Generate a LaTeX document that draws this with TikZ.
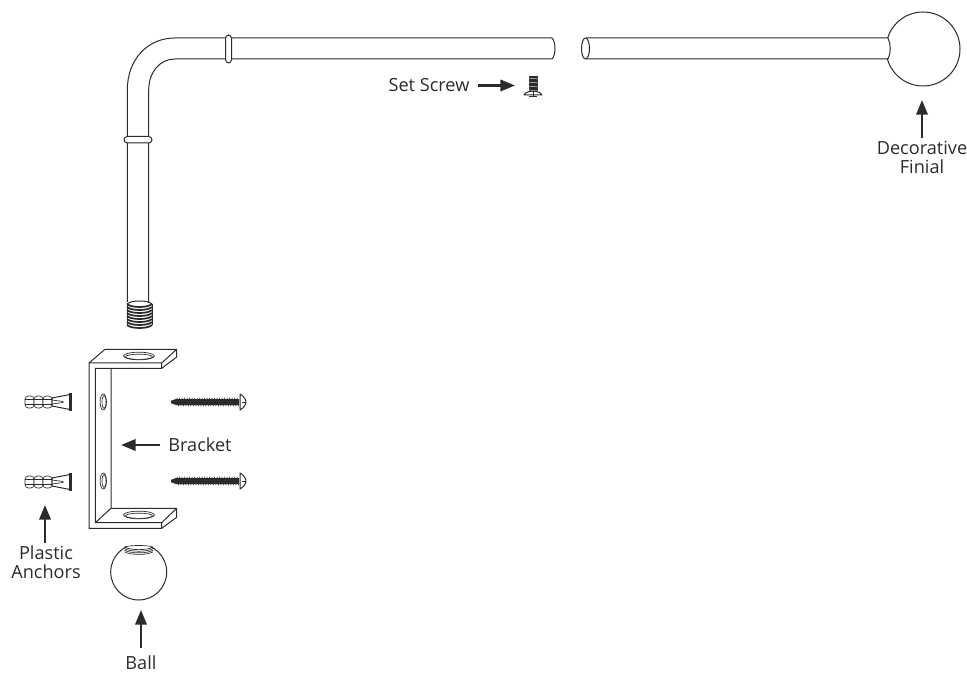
\documentclass[tikz,border=0pt]{standalone}
\usepackage{fontspec}
\setmainfont{Open Sans}
\usetikzlibrary{positioning,arrows.meta}
\definecolor{ink}{HTML}{2B2B2B}
\tikzset{
	part/.style={draw=ink,line width=0.75pt,line join=round},
	thin part/.style={draw=ink,line width=0.5pt},
	tag/.style={text=ink,font=\fontsize{13.6}{14.2}\selectfont,align=center,inner sep=0pt},
	pointer/.style={draw=ink,line width=1.9pt,-{Triangle[length=11pt,width=8.5pt]},shorten <=6pt},
	pics/wallscrew/.style={code={
		\fill[ink] (0,-1.2) -- (5,-3) -- (68,-3) -- (68,3) -- (5,3) -- (0,1.2) -- cycle;
		\foreach \i in {6,8.5,...,66}{
			\draw[ink,line width=0.5pt] (\i,-4.2) -- (\i+1.5,4.2);
		}
		\draw[part,fill=white] (69,-8) .. controls (73,-6) and (75,-2) .. (75,0) .. controls (75,2) and (73,6) .. (69,8) -- cycle;
		\draw[thin part] (75,0) -- (71,0);
	}},
	pics/wallanchor/.style={code={
		\foreach \i in {0,9,18}{
			\draw[thin part,fill=white,rounded corners=2.5pt] (\i,-6) rectangle (\i+9,6);
		}
		\draw[thin part] (0,-2.5) -- (27,-2.5) (0,2.5) -- (27,2.5);
		\draw[part,fill=white] (27,-4) -- (45,-7.5) -- (45,7.5) -- (27,4) -- cycle;
		\draw[thin part] (27,-2) -- (38,-0.5) -- (38,0.5) -- (27,2);
		\draw[draw=ink,line width=1.8pt] (45.5,-9) -- (45.5,9);
	}},
}
\begin{document}
\begin{tikzpicture}[x=0.75pt,y=-0.75pt]
	\useasboundingbox (0,0) rectangle (967,673);
	%% rod
	\draw[part] (127.3,302) -- (127.3,90) .. controls (127.3,60) and (147,38) .. (175,38) -- (552,38)
		.. controls (556,42) and (556,55) .. (552,59) -- (175,59)
		.. controls (160,59) and (148.7,72) .. (148.7,90) -- (148.7,302);
	\draw[part,fill=white,rounded corners=2.5pt] (225.5,35) rectangle (231.5,63);
	\draw[part,fill=white,rounded corners=2.5pt] (124,136.5) rectangle (152,143);
	%% thread
	\foreach \i in {0,3,...,21}{
		\draw[draw=ink,line width=1.3pt] (127,304+\i) .. controls (131,308+\i) and (148,308+\i) .. (152,304+\i);
	}
	\draw[part] (127,304) .. controls (131,300) and (148,300) .. (152,304);
	\draw[part] (127,304) -- (127,325) (152,304) -- (152,325);
	%% far rod and finial
	\node[circle,draw=ink,line width=0.75pt,minimum size=55.5pt,inner sep=0pt] (finial) at (923,49) {};
	\fill[white] (880,38.5) rectangle (888,58.5);
	\draw[part] (586,38) -- (888,38) .. controls (891,44) and (891,53) .. (888,59) -- (586,59);
	\draw[part] (585.5,48.5) ellipse [x radius=4,y radius=10.5];
	%% bracket
	\draw[part] (89,363) -- (105,349.3) -- (176.7,349.3) -- (176.7,357) -- (161.7,368.3) -- (95.3,368.3) -- (95.3,522.7)
		-- (161.7,522.7) -- (176.7,508.3) -- (176.7,517.3) -- (161.7,528.3) -- (89,528.3) -- cycle;
	\draw[part] (89,363) -- (161.7,363) -- (161.7,368.3) (161.7,363) -- (176.7,349.3);
	\draw[part] (111,368.3) -- (111,508.3) -- (176.7,508.3) (95.3,522.7) -- (111,508.3) (161.7,522.7) -- (161.7,528.3);
	\foreach \y in {356,515}{
		\draw[thin part] (139,\y) ellipse [x radius=15.5,y radius=3.8];
		\draw[thin part] (139,\y+0.8) ellipse [x radius=13.5,y radius=2.6];
	}
	\foreach \y in {402,481}{
		\draw[thin part] (103.3,\y) ellipse [x radius=3.2,y radius=8];
		\draw[thin part] (104,\y) ellipse [x radius=2,y radius=6.5];
	}
	%% fixings
	\pic at (171,402) {wallscrew};
	\pic at (171,481) {wallscrew};
	\pic at (25,402) {wallanchor};
	\pic at (25,482) {wallanchor};
	%% set screw
	\fill[ink] (528.5,76) rectangle (537.5,91);
	\foreach \y in {78,82,...,90}{
		\draw[white,line width=0.3pt] (528,\y) -- (538,\y+1);
	}
	\draw[part,fill=white] (524,95) .. controls (526,90) and (540,90) .. (542,95) -- cycle;
	\draw[thin part] (533,91) -- (533,96.5) (529,96) -- (537,96);
	%% ball
	\node[circle,draw=ink,line width=0.75pt,minimum size=42pt,inner sep=0pt] (ball) at (138.7,572) {};
	\fill[white] (120,540) rectangle (158,546.5);
	\foreach \i in {0,1.6,3.2,4.8}{
		\draw[thin part] (124.5,547+\i) .. controls (130,550.5+\i) and (148,550.5+\i) .. (153,547+\i);
	}
	\draw[thin part] (124.5,547) .. controls (130,545) and (148,545) .. (153,547);
	%% labels
	\node[tag] (finial label) at (922,157) {Decorative\\Finial};
	\node[tag] (setscrew label) at (429,85) {Set Screw};
	\node[tag] (bracket label) at (200,445) {Bracket};
	\node[tag] (anchor label) at (46,562) {Plastic\\Anchors};
	\node[tag] (ball label) at (141,663) {Ball};
	\coordinate (finial tip) at (922,100);
	\coordinate (setscrew tip) at (515,85.5);
	\coordinate (bracket tip) at (121,445);
	\coordinate (anchor tip) at (45,505);
	\coordinate (ball tip) at (141,610);
	%% pointers
	\draw[pointer,shorten <=2pt] (finial label.north -| finial tip) -- (finial tip);
	\draw[pointer] (setscrew label.east |- setscrew tip) -- (setscrew tip);
	\draw[pointer] (bracket label.west |- bracket tip) -- (bracket tip);
	\draw[pointer,shorten <=2pt] (anchor label.north -| anchor tip) -- (anchor tip);
	\draw[pointer] (ball label.north -| ball tip) -- (ball tip);
\end{tikzpicture}
\end{document}
